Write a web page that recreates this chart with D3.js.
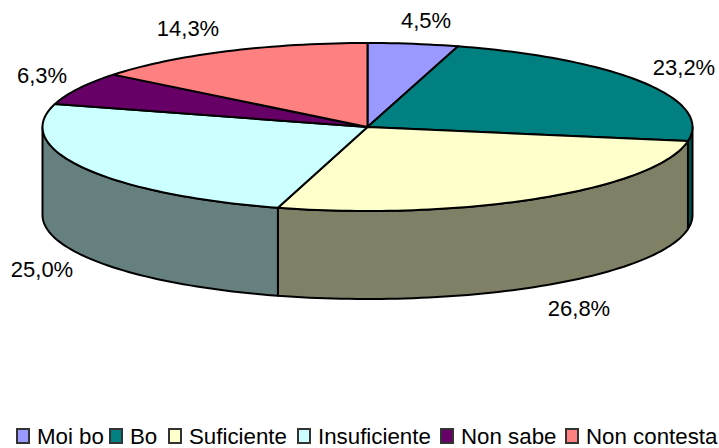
<!DOCTYPE html>
<html>
<head>
<meta charset="utf-8">
<script src="https://cdn.jsdelivr.net/npm/d3@7"></script>
<style>
  html, body { margin: 0; padding: 0; background: #fff; }
  svg { display: block; }
  text { font-family: "Liberation Sans", Arial, sans-serif; fill: #000; }
</style>
</head>
<body>
<script>
const categories = ["Moi bo", "Bo", "Suficiente", "Insuficiente", "Non sabe", "Non contesta"];
const values = [4.5, 23.2, 26.8, 25.0, 6.3, 14.3];
const valueLabels = ["4,5%", "23,2%", "26,8%", "25,0%", "6,3%", "14,3%"];
const colors = ["#9999ff", "#008080", "#ffffcc", "#ccffff", "#660066", "#ff8080"];
const sideColors = ["#666699", "#004d4d", "#808066", "#668080", "#330033", "#804040"];

// where the labels and legend sit
const labelX = [426, 684, 579, 42, 42, 188];
const labelY = [20, 67, 308, 269, 75, 28];
const legendX = [17, 110, 169, 298, 441, 566];

const width = 719, height = 448;
const cx = 367.5, cy = 127, rx = 325, ry = 84, depth = 88;

const svg = d3.select("body")
    .append("svg")
    .attr("width", width)
    .attr("height", height);

const arcs = d3.pie().sort(null).value(d => d)(values);

// angle is clockwise from the top of the ellipse
const px = a => cx + rx * Math.sin(a);
const py = a => cy - ry * Math.cos(a);

function rim(a0, a1, dy) {
    const n = Math.max(2, Math.ceil((a1 - a0) * 40));
    return d3.range(n + 1).map(i => {
        const a = a0 + (a1 - a0) * i / n;
        return [px(a), py(a) + dy];
    });
}

const line = d3.line();

// walls, only the part of the rim that faces front
const front = [Math.PI / 2, Math.PI * 3 / 2];
svg.append("g").selectAll("path")
    .data(arcs.filter(d => d.endAngle > front[0] && d.startAngle < front[1]))
    .join("path")
    .attr("d", d => {
        const a0 = Math.max(d.startAngle, front[0]);
        const a1 = Math.min(d.endAngle, front[1]);
        return line(rim(a0, a1, 0).concat(rim(a0, a1, depth).reverse())) + "Z";
    })
    .attr("fill", d => sideColors[d.index])
    .attr("stroke", "#000")
    .attr("stroke-width", 2)
    .attr("stroke-linejoin", "round");

// top of the pie
svg.append("g").selectAll("path")
    .data(arcs)
    .join("path")
    .attr("d", d => line([[cx, cy]].concat(rim(d.startAngle, d.endAngle, 0))) + "Z")
    .attr("fill", d => colors[d.index])
    .attr("stroke", "#000")
    .attr("stroke-width", 2)
    .attr("stroke-linejoin", "round");

svg.append("g").selectAll("text")
    .data(valueLabels)
    .join("text")
    .attr("x", (d, i) => labelX[i])
    .attr("y", (d, i) => labelY[i])
    .attr("dy", "0.35em")
    .attr("text-anchor", "middle")
    .attr("font-size", 22)
    .text(d => d);

const legend = svg.append("g").selectAll("g")
    .data(categories)
    .join("g")
    .attr("transform", (d, i) => `translate(${legendX[i]}, 436)`);

legend.append("rect")
    .attr("x", 0)
    .attr("y", -7)
    .attr("width", 12)
    .attr("height", 14)
    .attr("fill", (d, i) => colors[i])
    .attr("stroke", "#333")
    .attr("stroke-width", 2);

legend.append("text")
    .attr("x", 20)
    .attr("dy", "0.35em")
    .attr("font-size", 22.3)
    .text(d => d);
</script>
</body>
</html>
